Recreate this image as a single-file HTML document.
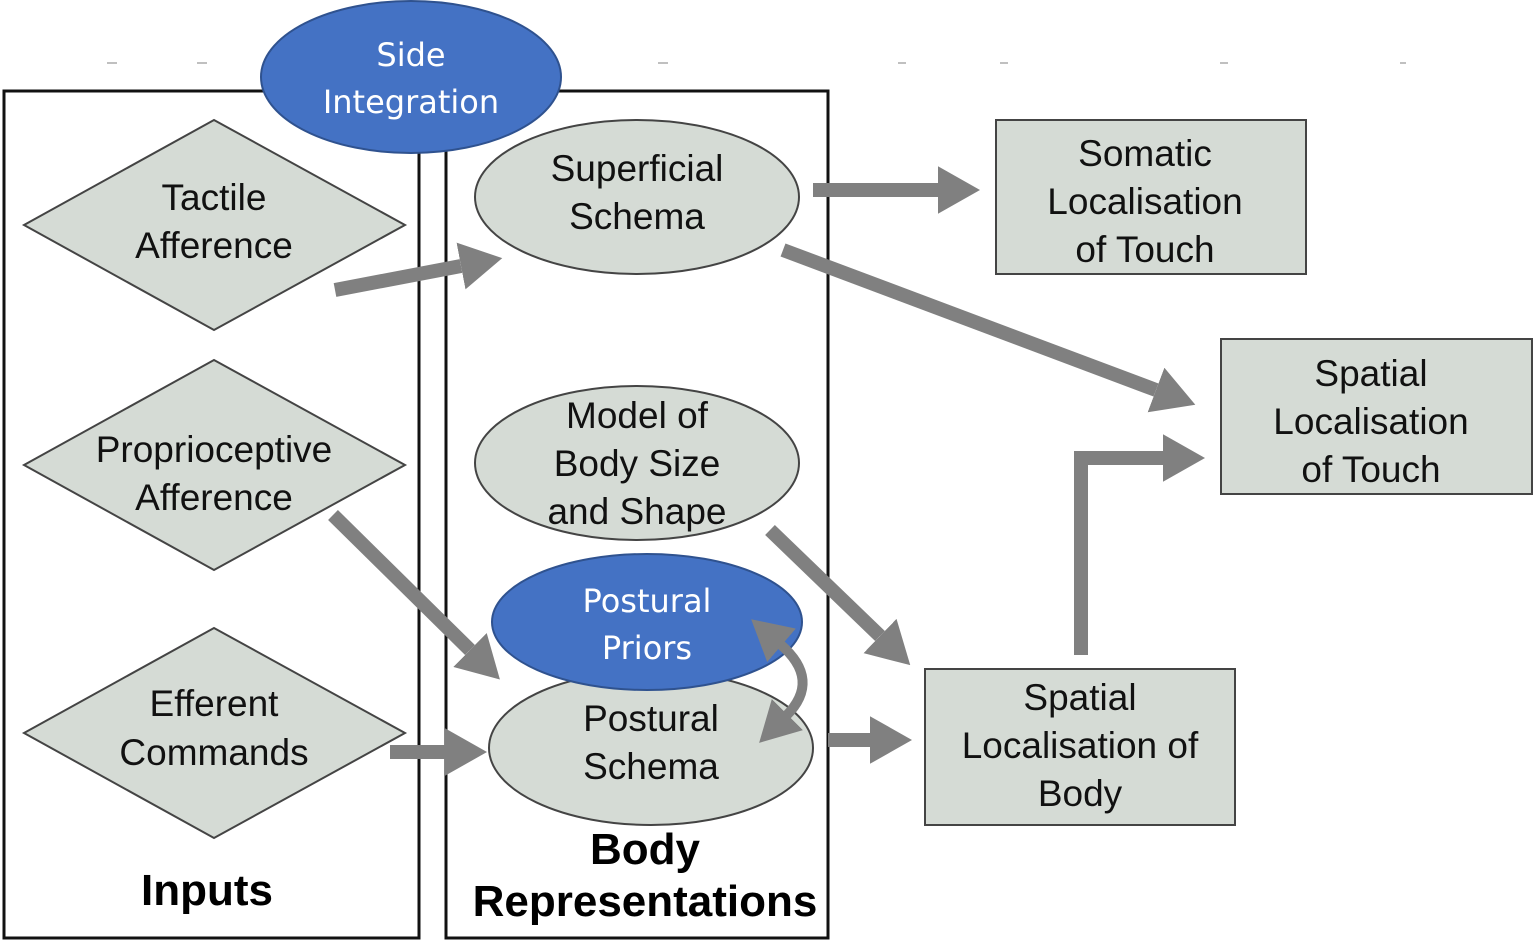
<!DOCTYPE html>
<html><head><meta charset="utf-8"><style>
html,body{margin:0;padding:0;background:#fff;}
svg{display:block;}
.t{font-family:"Liberation Sans",sans-serif;font-size:37px;fill:#111;text-anchor:middle;}
.w{font-family:"DejaVu Sans","Liberation Sans",sans-serif;font-size:32px;fill:#fff;text-anchor:middle;}
.b{font-family:"Liberation Sans",sans-serif;font-size:44px;font-weight:bold;fill:#000;text-anchor:middle;}
</style></head><body>
<svg width="1535" height="942" viewBox="0 0 1535 942" xmlns="http://www.w3.org/2000/svg">
<defs>
<marker id="h" markerWidth="3" markerHeight="3.4" refX="0" refY="1.7" orient="auto-start-reverse" markerUnits="strokeWidth">
<path d="M0,0 L3,1.7 L0,3.4 z" fill="#808080"/></marker>
<marker id="h2" markerWidth="4" markerHeight="4.4" refX="0.2" refY="2.2" orient="auto-start-reverse" markerUnits="strokeWidth">
<path d="M0,0 L4,2.2 L0,4.4 z" fill="#808080"/></marker>
</defs>
<g stroke="#aaa" stroke-width="1.5">
<line x1="107" y1="63" x2="117" y2="63"/><line x1="197" y1="63" x2="207" y2="63"/><line x1="658" y1="63" x2="668" y2="63"/>
<line x1="898" y1="63" x2="906" y2="63"/><line x1="1000" y1="63" x2="1008" y2="63"/><line x1="1220" y1="63" x2="1228" y2="63"/><line x1="1400" y1="63" x2="1406" y2="63"/>
</g>
<rect x="4" y="91" width="415" height="847" fill="none" stroke="#111" stroke-width="3"/>
<rect x="446" y="91" width="382" height="847" fill="none" stroke="#111" stroke-width="3"/>

<g fill="#d5dbd5" stroke="#444" stroke-width="2">
<polygon points="24,225 214,120 405,225 214,330"/>
<polygon points="24,465 214,360 405,465 214,570"/>
<polygon points="24,733 214,628 405,733 214,838"/>
<ellipse cx="637" cy="197" rx="162" ry="77"/>
<ellipse cx="637" cy="463" rx="162" ry="77"/>
<ellipse cx="651" cy="748" rx="162" ry="77"/>
<rect x="996" y="120" width="310" height="154"/>
<rect x="1221" y="339" width="311" height="155"/>
<rect x="925" y="669" width="310" height="156"/>
</g>
<ellipse cx="647" cy="622" rx="155" ry="68" fill="#4472c4" stroke="#2f528f" stroke-width="2"/>
<ellipse cx="411" cy="77" rx="150" ry="76" fill="#4472c4" stroke="#2f528f" stroke-width="2"/>

<g stroke="#808080" stroke-width="14" fill="none">
<line x1="335" y1="290" x2="461" y2="266" marker-end="url(#h)"/>
<line x1="813" y1="190" x2="938" y2="190" marker-end="url(#h)"/>
<line x1="783" y1="250" x2="1156" y2="390" marker-end="url(#h)"/>
<line x1="333" y1="515" x2="470" y2="650" marker-end="url(#h)"/>
<line x1="770" y1="530" x2="880" y2="636" marker-end="url(#h)"/>
<line x1="390" y1="752" x2="445" y2="752" marker-end="url(#h)"/>
<line x1="828" y1="740" x2="870" y2="740" marker-end="url(#h)"/>
<polyline points="1081,655 1081,458 1163,458" marker-end="url(#h)"/>
</g>
<path d="M786,716 Q822,680 780,644" stroke="#808080" stroke-width="10" fill="none" marker-start="url(#h2)" marker-end="url(#h2)"/>

<text class="w" x="411" y="66">Side</text>
<text class="w" x="411" y="113">Integration</text>
<text class="w" x="647" y="612">Postural</text>
<text class="w" x="647" y="659">Priors</text>

<text class="t" x="214" y="210">Tactile</text>
<text class="t" x="214" y="258">Afference</text>
<text class="t" x="214" y="462">Proprioceptive</text>
<text class="t" x="214" y="510">Afference</text>
<text class="t" x="214" y="716">Efferent</text>
<text class="t" x="214" y="765">Commands</text>
<text class="t" x="637" y="181">Superficial</text>
<text class="t" x="637" y="229">Schema</text>
<text class="t" x="637" y="428">Model of</text>
<text class="t" x="637" y="476">Body Size</text>
<text class="t" x="637" y="524">and Shape</text>
<text class="t" x="651" y="731">Postural</text>
<text class="t" x="651" y="779">Schema</text>
<text class="t" x="1145" y="166">Somatic</text>
<text class="t" x="1145" y="214">Localisation</text>
<text class="t" x="1145" y="262">of Touch</text>
<text class="t" x="1371" y="386">Spatial</text>
<text class="t" x="1371" y="434">Localisation</text>
<text class="t" x="1371" y="482">of Touch</text>
<text class="t" x="1080" y="710">Spatial</text>
<text class="t" x="1080" y="758">Localisation of</text>
<text class="t" x="1080" y="806">Body</text>
<text class="b" x="207" y="905">Inputs</text>
<text class="b" x="645" y="864">Body</text>
<text class="b" x="645" y="916">Representations</text>
</svg>
</body></html>
